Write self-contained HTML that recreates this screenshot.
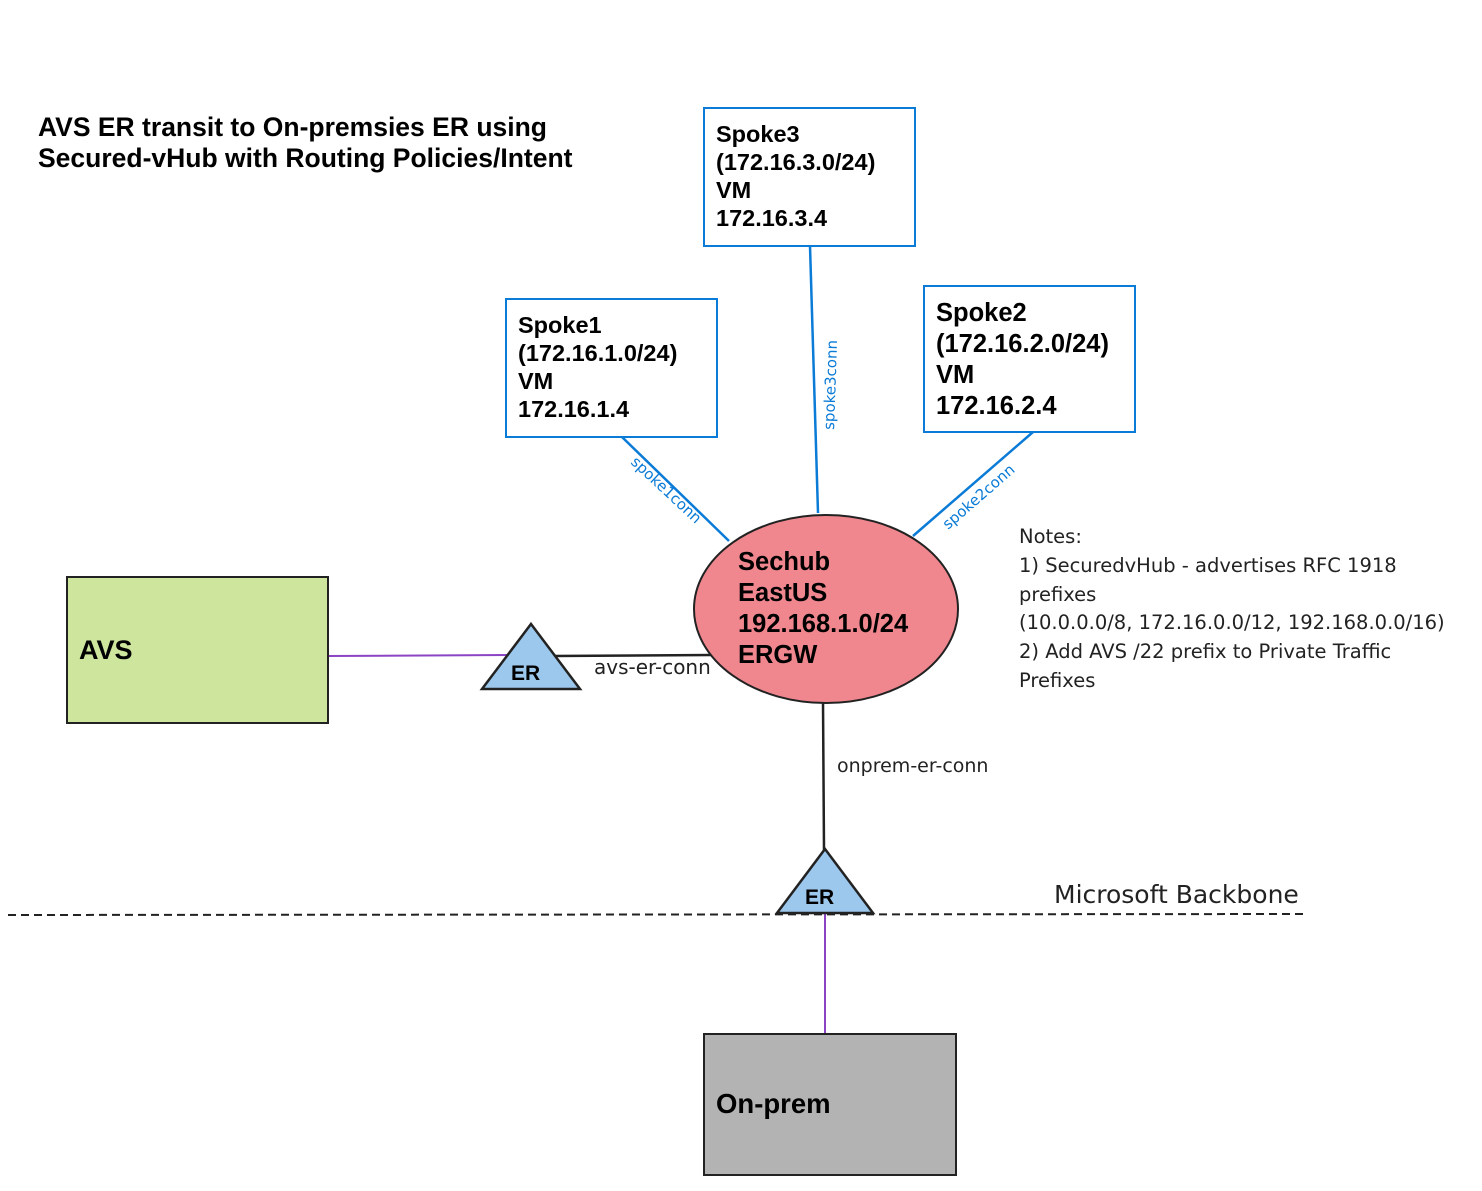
<!DOCTYPE html>
<html><head><meta charset="utf-8"><style>
html,body{margin:0;padding:0;background:#fff;}
svg{display:block;}
.b{font-family:"Liberation Sans",sans-serif;font-weight:bold;fill:#000;}
.h{font-family:"Comic Sans MS","DejaVu Sans",sans-serif;}
</style></head><body>
<svg width="1482" height="1191" viewBox="0 0 1482 1191" xmlns="http://www.w3.org/2000/svg">
<rect width="1482" height="1191" fill="#fff"/>
<text class="b" x="38" y="136" font-size="26.5">AVS ER transit to On-premsies ER using</text>
<text class="b" x="38" y="167" font-size="26.5">Secured-vHub with Routing Policies/Intent</text>

<line x1="622" y1="437" x2="729" y2="541" stroke="#0a7bd6" stroke-width="2.5"/>
<line x1="810" y1="246" x2="818" y2="513" stroke="#0a7bd6" stroke-width="2.5"/>
<line x1="1033" y1="432" x2="913" y2="536" stroke="#0a7bd6" stroke-width="2.5"/>
<text class="h" font-size="15" fill="#0a7bd6" transform="translate(630,463) rotate(43)">spoke1conn</text>
<text class="h" font-size="15" fill="#0a7bd6" transform="translate(834,430) rotate(-88)">spoke3conn</text>
<text class="h" font-size="15" fill="#0a7bd6" transform="translate(948,530) rotate(-41)">spoke2conn</text>

<rect x="704" y="108" width="211" height="138" fill="#fff" stroke="#0a7bd6" stroke-width="2"/>
<text class="b" font-size="23.5"><tspan x="716" y="142">Spoke3</tspan><tspan x="716" y="170">(172.16.3.0/24)</tspan><tspan x="716" y="198">VM</tspan><tspan x="716" y="226">172.16.3.4</tspan></text>
<rect x="506" y="299" width="211" height="138" fill="#fff" stroke="#0a7bd6" stroke-width="2"/>
<text class="b" font-size="23.5"><tspan x="518" y="333">Spoke1</tspan><tspan x="518" y="361">(172.16.1.0/24)</tspan><tspan x="518" y="389">VM</tspan><tspan x="518" y="417">172.16.1.4</tspan></text>
<rect x="924" y="286" width="211" height="146" fill="#fff" stroke="#0a7bd6" stroke-width="2"/>
<text class="b" font-size="25.5"><tspan x="936" y="321">Spoke2</tspan><tspan x="936" y="352">(172.16.2.0/24)</tspan><tspan x="936" y="383">VM</tspan><tspan x="936" y="414">172.16.2.4</tspan></text>

<line x1="328" y1="656" x2="508" y2="655" stroke="#8b44c4" stroke-width="2"/>
<line x1="553" y1="656" x2="712" y2="655" stroke="#222" stroke-width="2.5"/>
<line x1="823" y1="702" x2="824" y2="850" stroke="#222" stroke-width="2.5"/>
<line x1="825" y1="914" x2="825" y2="1034" stroke="#8b44c4" stroke-width="2"/>
<line x1="8" y1="915" x2="1306" y2="914" stroke="#222" stroke-width="2" stroke-dasharray="8,5"/>

<ellipse cx="826" cy="609" rx="132" ry="94" fill="#f0878f" stroke="#222" stroke-width="2"/>
<text class="b" font-size="25.5"><tspan x="738" y="570">Sechub</tspan><tspan x="738" y="601">EastUS</tspan><tspan x="738" y="632">192.168.1.0/24</tspan><tspan x="738" y="663">ERGW</tspan></text>

<rect x="67" y="577" width="261" height="146" fill="#cde59c" stroke="#222" stroke-width="2"/>
<text class="b" x="79" y="659" font-size="27">AVS</text>

<polygon points="531,624 580,689 482,689" fill="#9dc8ed" stroke="#222" stroke-width="2.5"/>
<text class="b" x="511" y="680" font-size="21">ER</text>
<polygon points="825,849 873,913 777,913" fill="#9dc8ed" stroke="#222" stroke-width="2.5"/>
<text class="b" x="805" y="904" font-size="21">ER</text>

<text class="h" x="594" y="674" font-size="20" fill="#222">avs-er-conn</text>
<text class="h" x="837" y="772" font-size="19" fill="#222">onprem-er-conn</text>
<text class="h" x="1054" y="903" font-size="25" fill="#222">Microsoft Backbone</text>

<text class="h" font-size="19.5" fill="#222"><tspan x="1019" y="543">Notes:</tspan><tspan x="1019" y="572">1) SecuredvHub - advertises RFC 1918</tspan><tspan x="1019" y="601">prefixes</tspan><tspan x="1019" y="629">(10.0.0.0/8, 172.16.0.0/12, 192.168.0.0/16)</tspan><tspan x="1019" y="658">2) Add AVS /22 prefix to Private Traffic</tspan><tspan x="1019" y="687">Prefixes</tspan></text>

<rect x="704" y="1034" width="252" height="141" fill="#b3b3b3" stroke="#222" stroke-width="2"/>
<text class="b" x="716" y="1113" font-size="27.5">On-prem</text>
</svg>
</body></html>
